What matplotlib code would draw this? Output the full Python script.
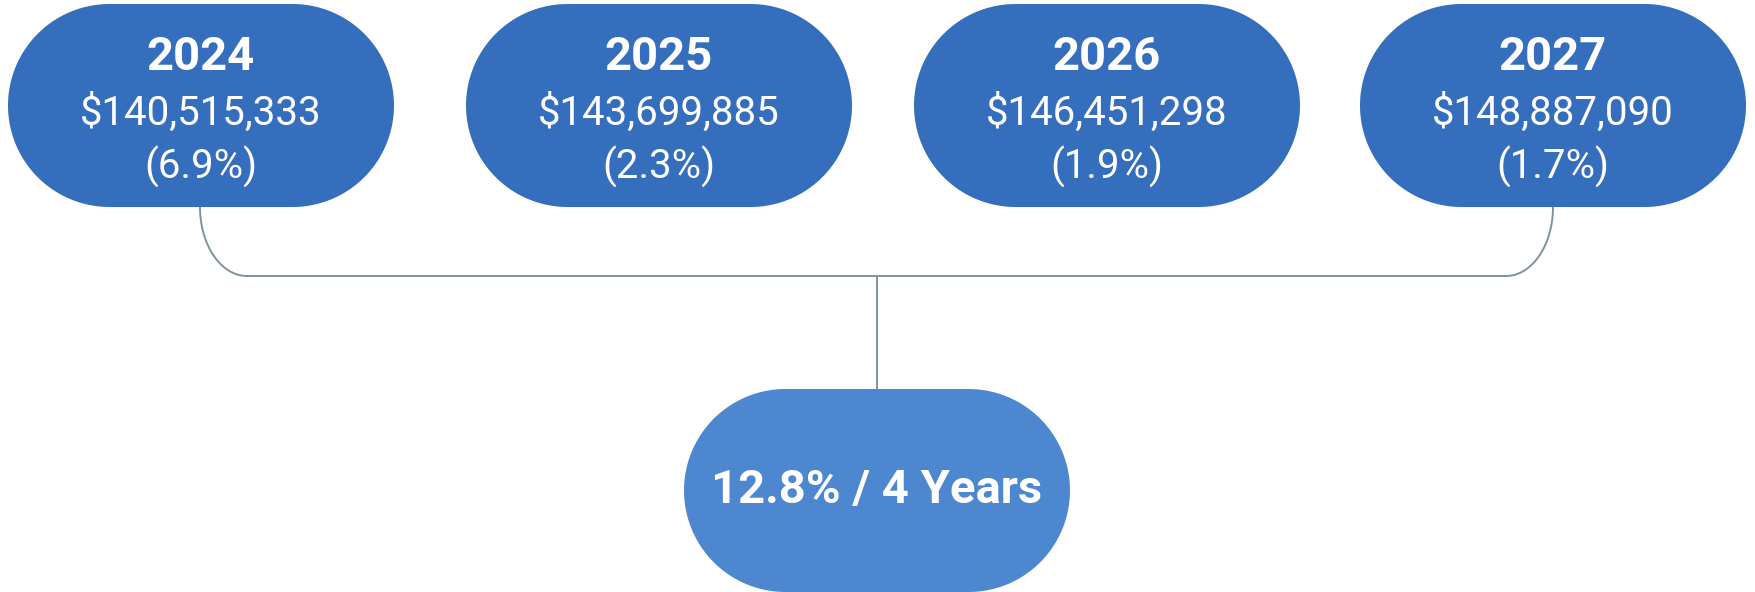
import matplotlib.pyplot as plt
from matplotlib.patches import Polygon
import numpy as np

# Data
years = ["2024", "2025", "2026", "2027"]
amounts = ["$140,515,333", "$143,699,885", "$146,451,298", "$148,887,090"]
growth = ["(6.9%)", "(2.3%)", "(1.9%)", "(1.7%)"]
total_label = "12.8% / 4 Years"

# Layout (pixels)
W, H = 1756, 592
box_w, box_h = 386, 203
top_y = 4
box_lefts = [8, 466, 914, 1360]
bottom_left, bottom_top = 684, 389
join_y = 276

top_col = "#346EBD"
bottom_col = "#4D87CF"
line_col = "#7F939E"

plt.rcParams['font.family'] = ['Roboto', 'DejaVu Sans']

fig = plt.figure(figsize=(W / 100, H / 100), dpi=100)
ax = fig.add_axes([0, 0, 1, 1])
ax.set_xlim(0, W)
ax.set_ylim(H, 0)
ax.axis("off")


def pill(x, y, color):
    # stadium shape: two half circles joined by straight edges
    r = box_h / 2
    cy = y + r
    a = np.linspace(-np.pi / 2, np.pi / 2, 80)
    right = np.column_stack([x + box_w - r + r * np.cos(a), cy + r * np.sin(a)])
    a2 = np.linspace(np.pi / 2, 3 * np.pi / 2, 80)
    left = np.column_stack([x + r + r * np.cos(a2), cy + r * np.sin(a2)])
    ax.add_patch(Polygon(np.vstack([right, left]), closed=True,
                         fc=color, ec="none", zorder=2))


for i in range(len(years)):
    x = box_lefts[i]
    pill(x, top_y, top_col)
    cx = x + box_w / 2
    ax.text(cx, top_y + 53, years[i], color="white", fontsize=34,
            fontweight="bold", ha="center", va="center", zorder=3)
    ax.text(cx, top_y + 109, amounts[i], color="white", fontsize=29,
            ha="center", va="center", zorder=3)
    ax.text(cx, top_y + 163, growth[i], color="white", fontsize=29,
            ha="center", va="center", zorder=3)

# connector lines
x0 = box_lefts[0] + box_w / 2 - 1
x1 = box_lefts[-1] + box_w / 2
rx, ry = 47, join_y - (top_y + box_h)
t = np.linspace(0, np.pi / 2, 40)
lx = x0 + rx - rx * np.cos(t)
ly = (top_y + box_h) + ry * np.sin(t)
rxs = x1 - rx + rx * np.cos(t[::-1])
rys = (top_y + box_h) + ry * np.sin(t[::-1])
xs = np.concatenate([lx, rxs])
ys = np.concatenate([ly, rys])
ax.plot(xs, ys, color=line_col, lw=1.4, zorder=1)

mid_x = bottom_left + box_w / 2
ax.plot([mid_x, mid_x], [join_y, bottom_top], color=line_col, lw=1.4, zorder=1)

pill(bottom_left, bottom_top, bottom_col)
ax.text(mid_x, bottom_top + box_h / 2, total_label, color="white", fontsize=34,
        fontweight="bold", ha="center", va="center", zorder=3)

fig.savefig("out.png", dpi=100)
